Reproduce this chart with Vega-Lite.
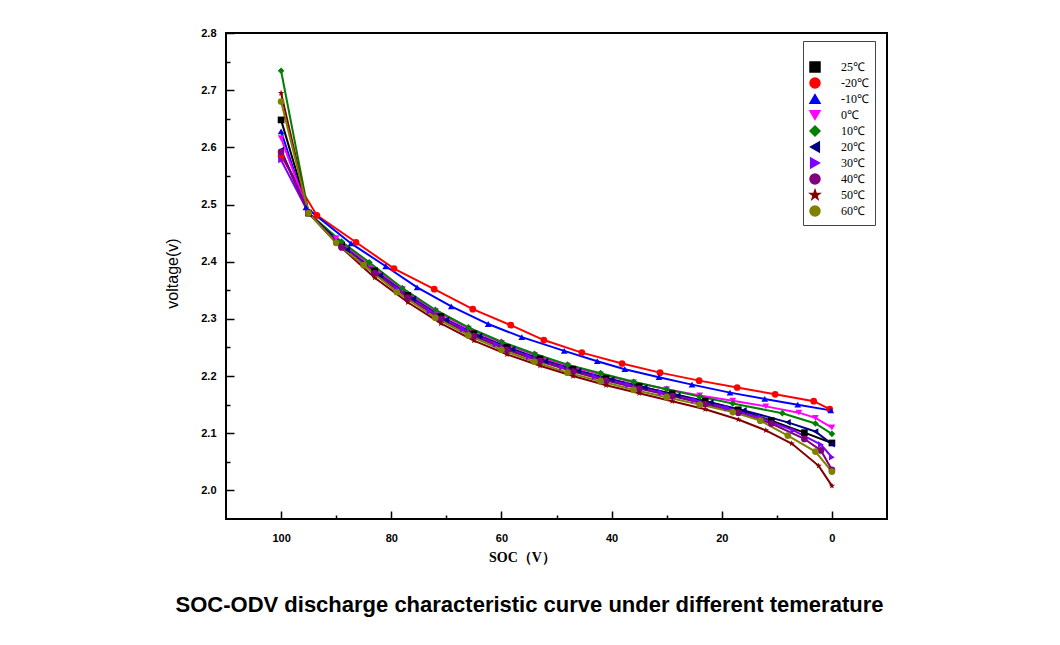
{
  "$schema": "https://vega.github.io/schema/vega-lite/v6.json",
  "autosize": {"type": "none"},
  "width": 661,
  "height": 486,
  "padding": {"left": 226, "top": 33, "right": 173, "bottom": 126},
  "background": "white",
  "config": {
    "view": {"stroke": "black", "strokeWidth": 2},
    "axis": {"grid": false, "domain": false, "tickColor": "black", "tickWidth": 1.5, "labelColor": "black", "titleColor": "black"}
  },
  "title": {
    "text": "SOC-ODV discharge characteristic curve under different temerature",
    "orient": "bottom",
    "anchor": "middle",
    "frame": "group",
    "dx": -27,
    "offset": 31,
    "font": "Liberation Sans",
    "fontSize": 22,
    "fontWeight": "bold",
    "color": "black"
  },
  "data": {
    "values": [
      {"t": "25℃", "s": 100, "v": 2.648}, {"t": "25℃", "s": 95, "v": 2.485}, {"t": "25℃", "s": 89, "v": 2.429}, {"t": "25℃", "s": 83, "v": 2.384}, {"t": "25℃", "s": 77, "v": 2.341}, {"t": "25℃", "s": 71, "v": 2.304}, {"t": "25℃", "s": 65, "v": 2.274}, {"t": "25℃", "s": 59, "v": 2.25}, {"t": "25℃", "s": 53, "v": 2.23}, {"t": "25℃", "s": 47, "v": 2.212}, {"t": "25℃", "s": 41, "v": 2.196}, {"t": "25℃", "s": 35, "v": 2.182}, {"t": "25℃", "s": 29, "v": 2.169}, {"t": "25℃", "s": 23, "v": 2.156}, {"t": "25℃", "s": 17, "v": 2.141}, {"t": "25℃", "s": 11, "v": 2.122}, {"t": "25℃", "s": 5, "v": 2.101}, {"t": "25℃", "s": 0, "v": 2.083},
      {"t": "-20℃", "s": 100, "v": 2.585}, {"t": "-20℃", "s": 93.5, "v": 2.481}, {"t": "-20℃", "s": 86.4, "v": 2.434}, {"t": "-20℃", "s": 79.5, "v": 2.388}, {"t": "-20℃", "s": 72.2, "v": 2.352}, {"t": "-20℃", "s": 65.2, "v": 2.317}, {"t": "-20℃", "s": 58.3, "v": 2.289}, {"t": "-20℃", "s": 52.3, "v": 2.263}, {"t": "-20℃", "s": 45.4, "v": 2.241}, {"t": "-20℃", "s": 38.1, "v": 2.222}, {"t": "-20℃", "s": 31.2, "v": 2.206}, {"t": "-20℃", "s": 24.1, "v": 2.192}, {"t": "-20℃", "s": 17.2, "v": 2.18}, {"t": "-20℃", "s": 10.3, "v": 2.168}, {"t": "-20℃", "s": 3.3, "v": 2.156}, {"t": "-20℃", "s": 0.4, "v": 2.142},
      {"t": "-10℃", "s": 100, "v": 2.628}, {"t": "-10℃", "s": 95.5, "v": 2.495}, {"t": "-10℃", "s": 87.3, "v": 2.432}, {"t": "-10℃", "s": 81, "v": 2.392}, {"t": "-10℃", "s": 75.3, "v": 2.355}, {"t": "-10℃", "s": 69.1, "v": 2.322}, {"t": "-10℃", "s": 62.4, "v": 2.291}, {"t": "-10℃", "s": 56.3, "v": 2.268}, {"t": "-10℃", "s": 48.6, "v": 2.244}, {"t": "-10℃", "s": 42.6, "v": 2.226}, {"t": "-10℃", "s": 37.6, "v": 2.212}, {"t": "-10℃", "s": 31.4, "v": 2.198}, {"t": "-10℃", "s": 25.4, "v": 2.185}, {"t": "-10℃", "s": 18.5, "v": 2.171}, {"t": "-10℃", "s": 12.2, "v": 2.16}, {"t": "-10℃", "s": 6.2, "v": 2.15}, {"t": "-10℃", "s": 0.2, "v": 2.14},
      {"t": "0℃", "s": 100, "v": 2.616}, {"t": "0℃", "s": 95, "v": 2.485}, {"t": "0℃", "s": 90, "v": 2.441}, {"t": "0℃", "s": 84, "v": 2.395}, {"t": "0℃", "s": 78, "v": 2.352}, {"t": "0℃", "s": 72, "v": 2.314}, {"t": "0℃", "s": 66, "v": 2.283}, {"t": "0℃", "s": 60, "v": 2.258}, {"t": "0℃", "s": 54, "v": 2.237}, {"t": "0℃", "s": 48, "v": 2.218}, {"t": "0℃", "s": 42, "v": 2.203}, {"t": "0℃", "s": 36, "v": 2.189}, {"t": "0℃", "s": 30, "v": 2.177}, {"t": "0℃", "s": 24, "v": 2.166}, {"t": "0℃", "s": 18, "v": 2.157}, {"t": "0℃", "s": 12, "v": 2.147}, {"t": "0℃", "s": 6, "v": 2.136}, {"t": "0℃", "s": 3, "v": 2.127}, {"t": "0℃", "s": 0, "v": 2.11},
      {"t": "10℃", "s": 100, "v": 2.734}, {"t": "10℃", "s": 95, "v": 2.485}, {"t": "10℃", "s": 89, "v": 2.435}, {"t": "10℃", "s": 84, "v": 2.399}, {"t": "10℃", "s": 78, "v": 2.354}, {"t": "10℃", "s": 72, "v": 2.316}, {"t": "10℃", "s": 66, "v": 2.285}, {"t": "10℃", "s": 60, "v": 2.26}, {"t": "10℃", "s": 54, "v": 2.239}, {"t": "10℃", "s": 48, "v": 2.22}, {"t": "10℃", "s": 42, "v": 2.205}, {"t": "10℃", "s": 36, "v": 2.19}, {"t": "10℃", "s": 30, "v": 2.177}, {"t": "10℃", "s": 24, "v": 2.164}, {"t": "10℃", "s": 18, "v": 2.152}, {"t": "10℃", "s": 9, "v": 2.135}, {"t": "10℃", "s": 3, "v": 2.117}, {"t": "10℃", "s": 0, "v": 2.099},
      {"t": "20℃", "s": 100, "v": 2.595}, {"t": "20℃", "s": 95, "v": 2.485}, {"t": "20℃", "s": 88, "v": 2.421}, {"t": "20℃", "s": 82, "v": 2.376}, {"t": "20℃", "s": 76, "v": 2.335}, {"t": "20℃", "s": 70, "v": 2.298}, {"t": "20℃", "s": 64, "v": 2.27}, {"t": "20℃", "s": 58, "v": 2.247}, {"t": "20℃", "s": 52, "v": 2.226}, {"t": "20℃", "s": 46, "v": 2.209}, {"t": "20℃", "s": 40, "v": 2.194}, {"t": "20℃", "s": 34, "v": 2.18}, {"t": "20℃", "s": 28, "v": 2.166}, {"t": "20℃", "s": 22, "v": 2.154}, {"t": "20℃", "s": 16, "v": 2.14}, {"t": "20℃", "s": 8, "v": 2.119}, {"t": "20℃", "s": 3, "v": 2.103}, {"t": "20℃", "s": 0, "v": 2.081},
      {"t": "30℃", "s": 100, "v": 2.578}, {"t": "30℃", "s": 95, "v": 2.485}, {"t": "30℃", "s": 90, "v": 2.435}, {"t": "30℃", "s": 85, "v": 2.396}, {"t": "30℃", "s": 79, "v": 2.353}, {"t": "30℃", "s": 73, "v": 2.314}, {"t": "30℃", "s": 67, "v": 2.282}, {"t": "30℃", "s": 61, "v": 2.256}, {"t": "30℃", "s": 55, "v": 2.234}, {"t": "30℃", "s": 49, "v": 2.215}, {"t": "30℃", "s": 43, "v": 2.199}, {"t": "30℃", "s": 37, "v": 2.185}, {"t": "30℃", "s": 31, "v": 2.171}, {"t": "30℃", "s": 25, "v": 2.158}, {"t": "30℃", "s": 19, "v": 2.144}, {"t": "30℃", "s": 13, "v": 2.127}, {"t": "30℃", "s": 7, "v": 2.105}, {"t": "30℃", "s": 2, "v": 2.08}, {"t": "30℃", "s": 0, "v": 2.058},
      {"t": "40℃", "s": 100, "v": 2.592}, {"t": "40℃", "s": 95, "v": 2.485}, {"t": "40℃", "s": 89, "v": 2.425}, {"t": "40℃", "s": 83, "v": 2.38}, {"t": "40℃", "s": 77, "v": 2.337}, {"t": "40℃", "s": 71, "v": 2.3}, {"t": "40℃", "s": 65, "v": 2.27}, {"t": "40℃", "s": 59, "v": 2.246}, {"t": "40℃", "s": 53, "v": 2.226}, {"t": "40℃", "s": 47, "v": 2.208}, {"t": "40℃", "s": 41, "v": 2.192}, {"t": "40℃", "s": 35, "v": 2.178}, {"t": "40℃", "s": 29, "v": 2.165}, {"t": "40℃", "s": 23, "v": 2.151}, {"t": "40℃", "s": 17, "v": 2.136}, {"t": "40℃", "s": 11, "v": 2.117}, {"t": "40℃", "s": 5, "v": 2.09}, {"t": "40℃", "s": 2, "v": 2.07}, {"t": "40℃", "s": 0, "v": 2.036},
      {"t": "50℃", "s": 100, "v": 2.695}, {"t": "50℃", "s": 95, "v": 2.485}, {"t": "50℃", "s": 90, "v": 2.433}, {"t": "50℃", "s": 83, "v": 2.372}, {"t": "50℃", "s": 77, "v": 2.329}, {"t": "50℃", "s": 71, "v": 2.292}, {"t": "50℃", "s": 65, "v": 2.262}, {"t": "50℃", "s": 59, "v": 2.238}, {"t": "50℃", "s": 53, "v": 2.218}, {"t": "50℃", "s": 47, "v": 2.2}, {"t": "50℃", "s": 41, "v": 2.184}, {"t": "50℃", "s": 35, "v": 2.17}, {"t": "50℃", "s": 29, "v": 2.156}, {"t": "50℃", "s": 23, "v": 2.142}, {"t": "50℃", "s": 17, "v": 2.124}, {"t": "50℃", "s": 12, "v": 2.105}, {"t": "50℃", "s": 7.3, "v": 2.082}, {"t": "50℃", "s": 2.4, "v": 2.043}, {"t": "50℃", "s": 0, "v": 2.008},
      {"t": "60℃", "s": 100, "v": 2.68}, {"t": "60℃", "s": 95, "v": 2.485}, {"t": "60℃", "s": 90, "v": 2.433}, {"t": "60℃", "s": 85, "v": 2.394}, {"t": "60℃", "s": 79, "v": 2.347}, {"t": "60℃", "s": 72, "v": 2.302}, {"t": "60℃", "s": 66, "v": 2.271}, {"t": "60℃", "s": 60, "v": 2.246}, {"t": "60℃", "s": 54, "v": 2.225}, {"t": "60℃", "s": 48, "v": 2.206}, {"t": "60℃", "s": 42, "v": 2.191}, {"t": "60℃", "s": 36, "v": 2.176}, {"t": "60℃", "s": 30, "v": 2.163}, {"t": "60℃", "s": 24, "v": 2.15}, {"t": "60℃", "s": 18, "v": 2.137}, {"t": "60℃", "s": 13, "v": 2.122}, {"t": "60℃", "s": 8, "v": 2.096}, {"t": "60℃", "s": 3, "v": 2.068}, {"t": "60℃", "s": 0, "v": 2.033}
    ]
  },
  "layer": [
    {
      "mark": {"type": "line", "strokeWidth": 2},
      "encoding": {
        "x": {
          "field": "s", "type": "quantitative",
          "scale": {"domain": [-10, 110], "reverse": true, "nice": false, "zero": false},
          "axis": {
            "orient": "bottom",
            "values": [100, 80, 60, 40, 20, 0],
            "tickSize": -8,
            "labelPadding": 21,
            "labelFont": "Liberation Sans", "labelFontSize": 11, "labelFontWeight": "bold",
            "title": "SOC（V）",
            "titleFont": "Liberation Serif", "titleFontSize": 14, "titleFontWeight": "bold",
            "titleX": 296, "titleY": 38, "titleBaseline": "middle"
          }
        },
        "y": {
          "field": "v", "type": "quantitative",
          "scale": {"domain": [1.95, 2.8], "nice": false, "zero": false},
          "axis": {
            "orient": "left",
            "values": [2.0, 2.1, 2.2, 2.3, 2.4, 2.5, 2.6, 2.7, 2.8],
            "format": ".1f",
            "tickSize": -8,
            "labelPadding": 18,
            "labelFont": "Liberation Sans", "labelFontSize": 11, "labelFontWeight": "bold",
            "title": "voltage(v)",
            "titleFont": "Liberation Sans", "titleFontSize": 16, "titleFontWeight": "normal",
            "titleX": -54, "titleY": 240, "titleAngle": -90, "titleBaseline": "middle", "titleAlign": "center"
          }
        },
        "color": {
          "field": "t",
          "type": "nominal",
          "scale": {
            "domain": ["25℃", "-20℃", "-10℃", "0℃", "10℃", "20℃", "30℃", "40℃", "50℃", "60℃"],
            "range": ["#000000", "#FF0000", "#0000FF", "#FF00FF", "#008000", "#000080", "#8000FF", "#800080", "#800000", "#808000"]
          },
          "legend": {
            "orient": "none",
            "legendX": 577,
            "legendY": 8,
            "title": " ",
            "titleFontSize": 10,
            "titlePadding": 4,
            "padding": 6,
            "strokeColor": "#444444",
            "fillColor": "white",
            "labelFont": "Liberation Serif",
            "labelFontSize": 12,
            "labelColor": "black",
            "symbolSize": 100,
            "symbolStrokeWidth": 1.5,
            "symbolOpacity": 1,
            "labelOffset": 20,
            "rowPadding": 0
          }
        }
      }
    },
    {
      "mark": {"type": "point", "filled": true, "size": 45, "opacity": 1},
      "encoding": {
        "x": {"field": "s", "type": "quantitative", "axis": null},
        "y": {"field": "v", "type": "quantitative", "axis": null},
        "color": {"field": "t", "type": "nominal"},
        "shape": {
          "field": "t", "type": "nominal",
          "scale": {
            "domain": ["25℃", "-20℃", "-10℃", "0℃", "10℃", "20℃", "30℃", "40℃", "50℃", "60℃"],
            "range": ["square", "circle", "triangle-up", "triangle-down", "diamond", "triangle-left", "triangle-right", "circle", "M0,-1L0.235,-0.324L0.951,-0.309L0.38,0.124L0.588,0.809L0,0.4L-0.588,0.809L-0.38,0.124L-0.951,-0.309L-0.235,-0.324Z", "circle"]
          },
          "legend": null
        }
      }
    },
    {
      "mark": {"type": "point", "opacity": 0},
      "encoding": {
        "x": {
          "field": "s", "type": "quantitative",
          "axis": {"orient": "bottom", "values": [90, 70, 50, 30, 10], "tickSize": -4, "labels": false, "title": null, "domain": false}
        },
        "y": {
          "field": "v", "type": "quantitative",
          "axis": {"orient": "left", "values": [2.05, 2.15, 2.25, 2.35, 2.45, 2.55, 2.65, 2.75], "tickSize": -4, "labels": false, "title": null, "domain": false}
        }
      }
    }
  ],
  "resolve": {"axis": {"x": "independent", "y": "independent"}}
}
